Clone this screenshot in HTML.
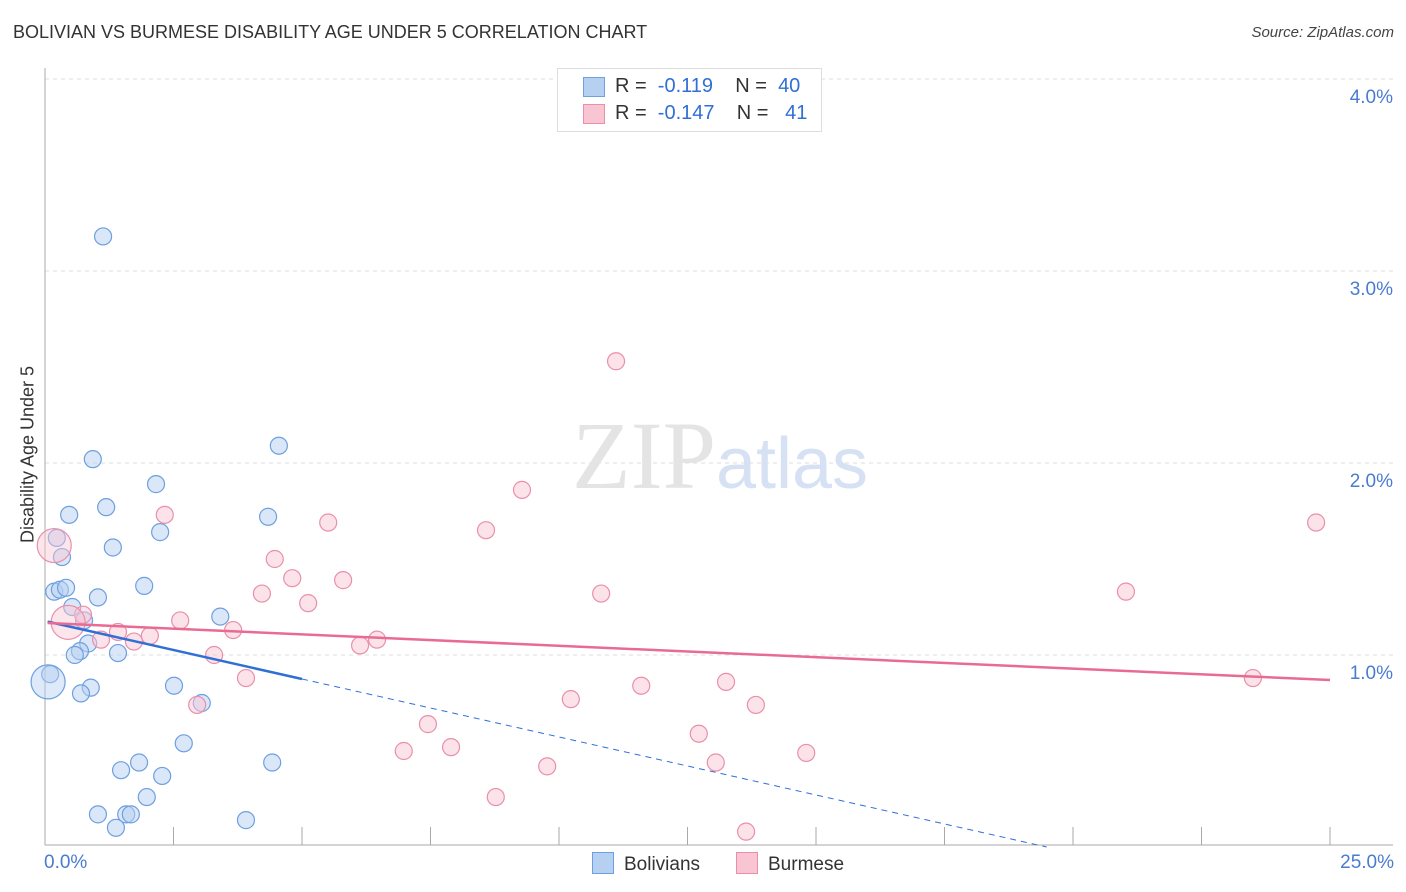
<!DOCTYPE html>
<html><head><meta charset="utf-8"><style>
body{margin:0;background:#fff;font-family:"Liberation Sans",sans-serif;}
#c{position:absolute;left:0;top:0;}
</style></head><body>
<svg id="c" width="1406" height="892"></svg>
<script>
const blueX=[1.13,0.93,2.16,4.55,0.47,1.19,2.24,4.34,0.23,0.33,1.32,0.18,0.29,0.41,1.93,1.03,0.53,3.41,0.76,0.84,0.68,0.58,1.42,0.1,0.06,2.51,0.89,0.7,3.05,2.7,1.83,4.42,1.48,2.28,1.98,1.03,1.58,1.67,1.38,3.91];
const blueY=[3.18,2.02,1.89,2.09,1.73,1.77,1.64,1.72,1.61,1.51,1.56,1.33,1.34,1.35,1.36,1.30,1.25,1.20,1.18,1.06,1.02,1.0,1.01,0.9,0.86,0.84,0.83,0.8,0.75,0.54,0.44,0.44,0.4,0.37,0.26,0.17,0.17,0.17,0.1,0.14];
const blueBig=[0,0,0,0,0,0,0,0,0,0,0,0,0,0,0,0,0,0,0,0,0,0,0,0,1,0,0,0,0,0,0,0,0,0,0,0,0,0,0,0];
const pinkX=[11.11,9.28,2.33,5.51,8.58,4.47,24.73,4.81,5.8,4.22,10.82,21.03,5.12,0.74,2.63,0.45,3.66,1.42,2.04,1.09,1.73,6.46,6.13,3.29,3.91,11.6,13.25,23.5,10.23,2.96,13.83,7.45,12.72,7.9,6.98,14.81,13.05,9.77,8.77,13.64,0.18];
const pinkY=[2.53,1.86,1.73,1.69,1.65,1.5,1.69,1.4,1.39,1.32,1.32,1.33,1.27,1.21,1.18,1.17,1.13,1.12,1.1,1.08,1.07,1.08,1.05,1.0,0.88,0.84,0.86,0.88,0.77,0.74,0.74,0.64,0.59,0.52,0.5,0.49,0.44,0.42,0.26,0.08,1.57];
const pinkBig=[0,0,0,0,0,0,0,0,0,0,0,0,0,0,0,1,0,0,0,0,0,0,0,0,0,0,0,0,0,0,0,0,0,0,0,0,0,0,0,0,1];
const blueLine=[1.177,-0.0604];
const pinkLine=[1.167,-0.0119];
const xTicks=["0.0%","25.0%"];
const yTicks=[1,2,3,4];

const NS="http://www.w3.org/2000/svg";
const svg=document.getElementById('c');
const X=v=>45+v*51.4, Y=v=>847-v*192;
function mk(t,a,p){const e=document.createElementNS(NS,t);for(const k in a)e.setAttribute(k,a[k]);(p||svg).appendChild(e);return e;}
// grid
yTicks.forEach(v=>{
 const g=mk('line',{x1:45,x2:1393,y1:Y(v),y2:Y(v),stroke:'#ddd','stroke-dasharray':'4,4'});
 
 
 const t=mk('text',{x:1393,y:Y(v)+24,'text-anchor':'end','font-size':19,fill:'#4a7bd0'});
 t.textContent=v.toFixed(1)+'%';
 
 
});
mk('line',{x1:45,x2:45,y1:68,y2:845,stroke:'#aaa'});
mk('line',{x1:45,x2:1393,y1:845,y2:845,stroke:'#aaa'});
for(let i=1;i<=10;i++){const l=mk('line',{x1:X(i*2.5),x2:X(i*2.5),y1:827,y2:845,stroke:'#aaa'});}
// watermark
const w=mk('text',{x:720,y:488,'text-anchor':'middle','font-size':96,fill:'#e4e4e4','font-family':'Liberation Serif'});

w.innerHTML='ZIP<tspan font-family="Liberation Sans" fill="#d6e2f3" font-size="72">atlas</tspan>';
function pts(xs,ys,big,fill,stroke,name){
 xs.forEach((x,i)=>{const c=mk('circle',{cx:X(x),cy:Y(ys[i]),r:big[i]?17:8.5,fill:fill,stroke:stroke,'stroke-width':1.2,'fill-opacity':big[i]?0.45:0.5});
 
 });
}
pts(blueX,blueY,blueBig,'#b6d0f2','#6e9fe0','bolivian-point');
pts(pinkX,pinkY,pinkBig,'#f9c5d3','#ea8fab','burmese-point');
// trend lines
let bl=mk('line',{x1:X(0.05),y1:Y(blueLine[0]+blueLine[1]*0.05),x2:X(5),y2:Y(blueLine[0]+blueLine[1]*5),stroke:'#2f6fd6','stroke-width':2.5});

let xe=-blueLine[0]/blueLine[1];
let bd=mk('line',{x1:X(5),y1:Y(blueLine[0]+blueLine[1]*5),x2:X(xe),y2:Y(0),stroke:'#2f6fd6','stroke-width':1,'stroke-dasharray':'6,5'});

let pl=mk('line',{x1:X(0.05),y1:Y(pinkLine[0]+pinkLine[1]*0.05),x2:X(25),y2:Y(pinkLine[0]+pinkLine[1]*25),stroke:'#e96b94','stroke-width':2.5});

</script>
<div style="position:absolute;left:13px;top:22px;font-size:18px;color:#333;">BOLIVIAN VS BURMESE DISABILITY AGE UNDER 5 CORRELATION CHART</div>
<div style="position:absolute;right:12px;top:24px;font-size:15px;color:#444;font-style:italic;">Source: ZipAtlas.com</div>
<div style="position:absolute;left:-62px;top:444px;width:180px;text-align:center;transform:rotate(-90deg);font-size:18px;color:#333;">Disability Age Under 5</div>
<div style="position:absolute;left:44px;top:852px;font-size:19px;color:#4a7bd0;">0.0%</div>
<div style="position:absolute;right:12px;top:852px;font-size:19px;color:#4a7bd0;">25.0%</div>
<div style="position:absolute;left:557px;top:68px;width:263px;height:62px;border:1px solid #ddd;background:#fff;font-size:20px;color:#333;">
 <div style="position:absolute;left:25px;top:8px;width:20px;height:18px;background:#b6d0f2;border:1px solid #6e9fe0;"></div>
 <div style="position:absolute;left:57px;top:6px;">R = &nbsp;<span style="color:#2f6fd6">-0.119</span>&nbsp;&nbsp;&nbsp; N = &nbsp;<span style="color:#2f6fd6">40</span></div>
 <div style="position:absolute;left:25px;top:35px;width:20px;height:18px;background:#f9c5d3;border:1px solid #ea8fab;"></div>
 <div style="position:absolute;left:57px;top:33px;">R = &nbsp;<span style="color:#2f6fd6">-0.147</span>&nbsp;&nbsp;&nbsp; N = &nbsp;&nbsp;<span style="color:#2f6fd6">41</span></div>
</div>
<div style="position:absolute;left:592px;top:852px;font-size:19px;color:#333;"><span style="display:inline-block;width:20px;height:20px;background:#b6d0f2;border:1px solid #6e9fe0;vertical-align:-4px;margin-right:10px;"></span>Bolivians</div>
<div style="position:absolute;left:736px;top:852px;font-size:19px;color:#333;"><span style="display:inline-block;width:20px;height:20px;background:#f9c5d3;border:1px solid #ea8fab;vertical-align:-4px;margin-right:10px;"></span>Burmese</div>
</body></html>
